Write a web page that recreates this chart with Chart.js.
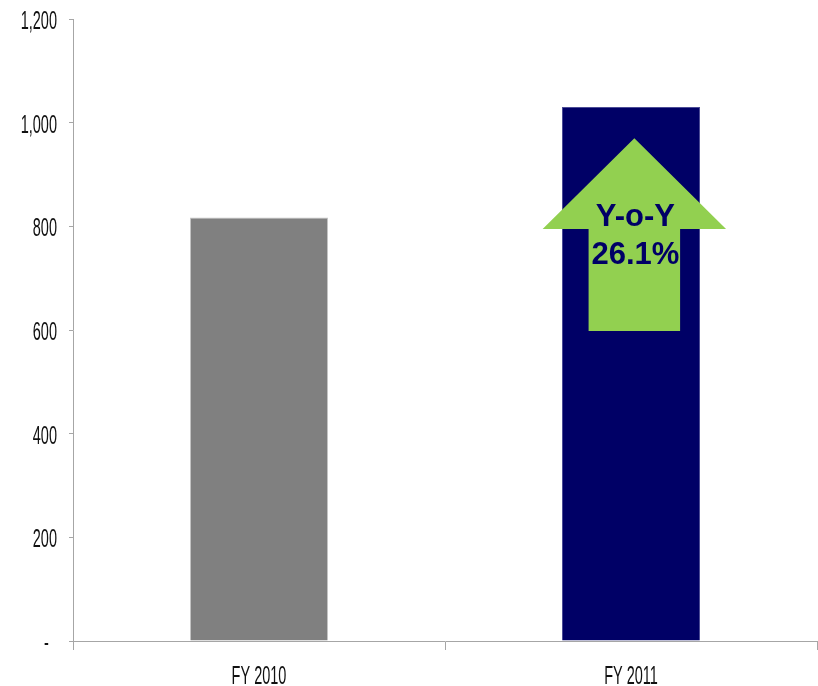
<!DOCTYPE html>
<html>
<head>
<meta charset="utf-8">
<script src="https://cdn.jsdelivr.net/npm/chart.js@4.4.1/dist/chart.umd.min.js"></script>
<style>
  body { margin: 0; background: #fff; }
  canvas { display: block; }
</style>
</head>
<body>
<canvas id="revenueChart" width="818" height="686"></canvas>
<script>
const years = ['FY 2010', 'FY 2011'];
const revenue = [817, 1030];
const barColors = ['#808080', '#000066'];
const barEdges = ['#c4c4c4', '#4c4c96'];
const yTicks = { min: 0, max: 1200, step: 200 };
const yoyLines = ['Y-o-Y', '26.1%'];

// growth arrow, in value-axis units
const arrowTip = 970;
const arrowShoulder = 795;
const arrowFoot = 598;

const axisGray = '#a6a6a6';
const labelFont = '25px "Liberation Sans", Arial, sans-serif';
const squeeze = 0.58; // condensed look of the axis text

function fmt(v) {
    return v === 0 ? '-  ' : v.toLocaleString('en-US');
}

// green up-arrow over the 2011 bar with the growth text
const yoyArrow = {
    id: 'yoyArrow',
    afterDatasetsDraw(chart) {
        const { ctx, scales: { x, y } } = chart;
        const band = x.width / years.length;
        const cx = x.getPixelForValue(1) + band * 0.009;
        const head = band * 0.2465;
        const shaft = band * 0.123;
        const tip = y.getPixelForValue(arrowTip);
        const shoulder = y.getPixelForValue(arrowShoulder);
        const foot = y.getPixelForValue(arrowFoot);

        ctx.save();
        ctx.fillStyle = '#92d050';
        ctx.beginPath();
        ctx.moveTo(cx, tip);
        ctx.lineTo(cx + head, shoulder);
        ctx.lineTo(cx + shaft, shoulder);
        ctx.lineTo(cx + shaft, foot);
        ctx.lineTo(cx - shaft, foot);
        ctx.lineTo(cx - shaft, shoulder);
        ctx.lineTo(cx - head, shoulder);
        ctx.closePath();
        ctx.fill();

        ctx.fillStyle = '#000066';
        ctx.font = 'bold 31px "Liberation Sans", Arial, sans-serif';
        ctx.textAlign = 'center';
        ctx.textBaseline = 'alphabetic';
        ctx.fillText(yoyLines[0], cx + 1, shoulder - 3);
        ctx.fillText(yoyLines[1], cx + 1, shoulder + 35);
        ctx.restore();
    }
};

// tick labels drawn narrow and tall
const squeezedTicks = {
    id: 'squeezedTicks',
    afterDraw(chart) {
        const { ctx, scales: { x, y } } = chart;
        ctx.save();
        ctx.font = labelFont;
        ctx.fillStyle = '#111';
        ctx.textBaseline = 'alphabetic';

        ctx.textAlign = 'right';
        y.ticks.forEach((t, i) => {
            ctx.save();
            ctx.translate(y.right - 16, y.getPixelForTick(i) + 10);
            ctx.scale(squeeze, 1);
            ctx.fillText(fmt(t.value), 0, 0);
            ctx.restore();
        });

        ctx.textAlign = 'center';
        x.ticks.forEach((t, i) => {
            ctx.save();
            ctx.translate(x.getPixelForTick(i), x.bottom + 34);
            ctx.scale(squeeze, 1);
            ctx.fillText(x.getLabelForValue(t.value), 0, 0);
            ctx.restore();
        });
        ctx.restore();
    }
};

const ctx = document.getElementById('revenueChart').getContext('2d');

const revenueChart = new Chart(ctx, {
    type: 'bar',
    data: {
        labels: years,
        datasets: [{
            data: revenue,
            backgroundColor: barColors,
            borderColor: barEdges,
            borderWidth: 1,
            barPercentage: 0.371,
            categoryPercentage: 1
        }]
    },
    options: {
        responsive: false,
        animation: false,
        devicePixelRatio: 1,
        layout: {
            padding: { top: 19, left: 69, right: 1, bottom: 36 }
        },
        plugins: {
            legend: { display: false },
            tooltip: { enabled: false }
        },
        scales: {
            x: {
                grid: {
                    color: axisGray,
                    drawOnChartArea: false,
                    tickLength: 9,
                    offset: true
                },
                border: { color: axisGray },
                ticks: { display: false }
            },
            y: {
                min: yTicks.min,
                max: yTicks.max,
                grid: {
                    color: axisGray,
                    drawOnChartArea: false,
                    tickLength: 4
                },
                border: { color: axisGray },
                ticks: { display: false, stepSize: yTicks.step }
            }
        }
    },
    plugins: [yoyArrow, squeezedTicks]
});
</script>
</body>
</html>
